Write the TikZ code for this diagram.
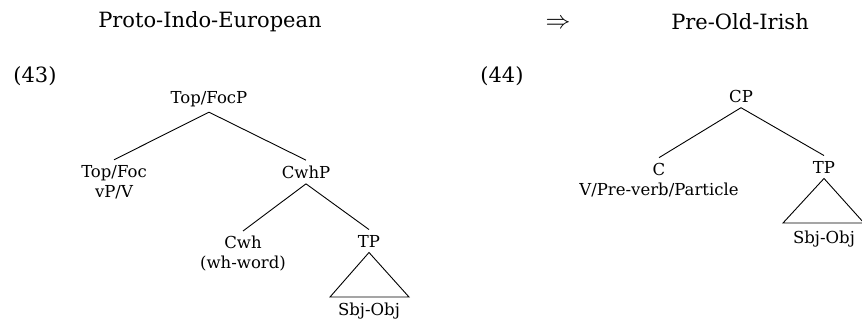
\documentclass[tikz,border=0pt]{standalone}
\usepackage{fontspec}
\setmainfont{DejaVu Serif}
\usepackage{tikz}
\usetikzlibrary{positioning}

\begin{document}
\begin{tikzpicture}[x=1pt,y=-1pt,line width=0.9pt,
	lbl/.style={font=\fontsize{16.5}{20}\selectfont, inner sep=5pt, align=center},
	ttl/.style={font=\fontsize{21}{24}\selectfont, inner sep=0pt}]
	\useasboundingbox (0,0) rectangle (862,325);
	\node[ttl] (pie) at (210,22) {Proto-Indo-European};
	\node[ttl,font=\fontsize{28}{30}\selectfont] (arr) at (558,24) {$\Rightarrow$};
	\node[ttl] (poi) at (740,22) {Pre-Old-Irish};
	\node[ttl] (ex43) at (35,76) {(43)};
	\node[ttl] (ex44) at (502,76) {(44)};
	% left tree
	\node[lbl] (topfocp) at (209,99) {Top/FocP};
	\node[lbl] (topfoc) at (114,182) {Top/Foc\\vP/V};
	\node[lbl] (cwhp) at (306,172) {CwhP};
	\node[lbl] (cwh) at (243,254) {Cwh\\(wh-word)};
	\node[lbl] (tpa) at (369,241) {TP};
	\coordinate (tpal) at (330,297);
	\coordinate (tpar) at (409,297);
	\node[lbl] (sboa) at (369,311) {Sbj-Obj};
	\draw (topfocp.south) -- (topfoc.north);
	\draw (topfocp.south) -- (cwhp.north);
	\draw (cwhp.south) -- (cwh.north);
	\draw (cwhp.south) -- (tpa.north);
	\draw (tpa.south) -- (tpal) -- (tpar) -- cycle;
	% right tree
	\node[lbl] (cp) at (741,96) {CP};
	\node[lbl] (c) at (659,180) {C\\V/Pre-verb/Particle};
	\node[lbl] (tpb) at (824,167) {TP};
	\coordinate (tpbl) at (783,223);
	\coordinate (tpbr) at (864,223);
	\node[lbl] (sbob) at (824,239) {Sbj-Obj};
	\draw (cp.south) -- (c.north);
	\draw (cp.south) -- (tpb.north);
	\draw (tpb.south) -- (tpbl) -- (tpbr) -- cycle;
\end{tikzpicture}
\end{document}
